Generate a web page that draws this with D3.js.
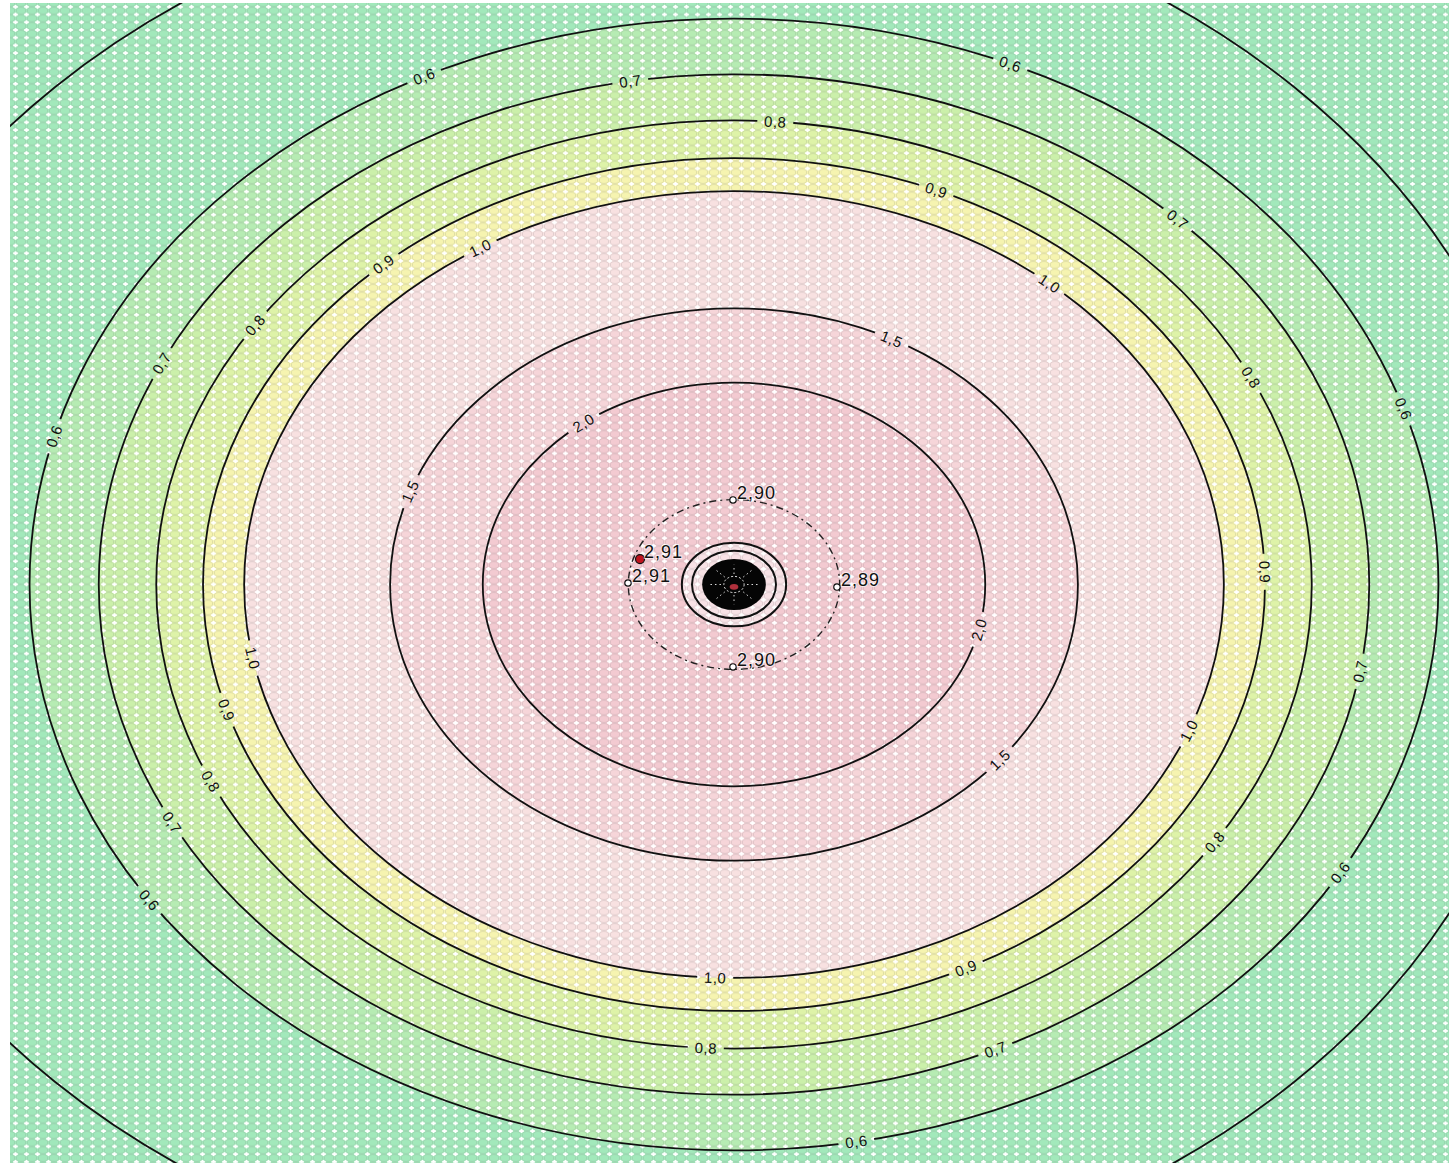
<!DOCTYPE html>
<html>
<head>
<meta charset="utf-8">
<script src="https://cdn.jsdelivr.net/npm/d3@7"></script>
<style>
  body { margin: 0; background: #fff; }
  svg { display: block; }
  text { font-family: "Liberation Sans", Arial, sans-serif; }
</style>
</head>
<body>
<div id="chart"></div>
<script>

// room is square (metres), the picture is stretched
var roomX = [0, 10];
var roomY = [0, 10];
var centreX = 5.0, centreY = 5.0;

// isolines: value, radius (m) and centre x (the 0,5 line sits off centre)
var levels = [0.5, 0.6, 0.7, 0.8, 0.9, 1.0, 1.5, 2.0];
var radii = [6.05, 4.865, 4.387, 3.99, 3.667, 3.383, 2.375, 1.735];
var levelCx = [4.59, 5.0, 5.0, 5.0, 5.0, 5.0, 5.0, 5.0];

// band colours: outside 0,5 ... inside 2,0
var bandColours = ["#a0e8bb", "#a2e9bb", "#b6ecb3", "#cbf0aa", "#def3a8",
                   "#f6f4b0", "#f8e1e1", "#f6d5d9", "#f3cad1"];

// where the isoline labels sit (value, angle in degrees round the centre)
var labelLevels = [0.6, 0.7, 0.8, 0.9, 0.6, 0.7, 1.0, 1.5, 2.0, 1.5, 0.8, 0.9, 1.0, 0.7, 0.6,
                   0.8, 0.6, 0.9, 2.0, 0.7, 1.0, 1.5, 0.8, 0.6, 1.0, 0.9, 0.8, 0.7, 0.6,
                   1.0, 0.9, 0.8, 0.7, 0.6];
var labelAngles = [116.1, 99.4, 85.9, 67.6, 66.9, 45.7, 49.9, 62.7, 126.8, 160.3, 146.0, 131.3, 121.2, 154.3, 164.8,
                   26.5, 18.1, 1.7, -12.9, -9.8, -21.8, -39.4, -33.7, -30.6, -92.2, -64.1, -92.8, -65.7, -80.0,
                   -169.2, -162.9, -154.9, -152.2, -146.1];

// calculation points near the luminaire
var pointX = [4.993, 5.711, 4.993, 4.268, 4.351];
var pointY = [5.727, 4.978, 4.291, 5.013, 5.219];
var pointValues = [2.90, 2.89, 2.90, 2.91, 2.91];
var pointIsMax = [false, false, false, false, true];

// dashed ring through the points, rings round the luminaire
var dashedRadius = 0.73;
var ringRadii = [0.36, 0.29];
var coreRadius = 0.22;

var width = 1449, height = 1163;
var margin = {top: 3, left: 10};

var x = d3.scaleLinear().domain(roomX).range([margin.left, 1458]);
var y = d3.scaleLinear().domain(roomY).range([1166, margin.top]);
var kx = x(1) - x(0), ky = y(0) - y(1);

var locale = d3.formatLocale({decimal: ",", thousands: ".", grouping: [3], currency: ["", ""]});
var fmt1 = locale.format(".1f"), fmt2 = locale.format(".2f");

var svg = d3.select("#chart").append("svg")
  .attr("width", width)
  .attr("height", height);

var defs = svg.append("defs");

defs.append("clipPath").attr("id", "plotClip")
  .append("rect")
    .attr("x", margin.left).attr("y", margin.top)
    .attr("width", width - margin.left).attr("height", height - margin.top);

// cell texture over the colours
var pat = defs.append("pattern")
  .attr("id", "cells")
  .attr("patternUnits", "userSpaceOnUse")
  .attr("x", margin.left).attr("y", margin.top)
  .attr("width", 11).attr("height", 7.7);
[[0, 0], [11, 0], [0, 7.7], [11, 7.7]].forEach(function(c) {
  pat.append("ellipse")
    .attr("cx", c[0]).attr("cy", c[1])
    .attr("rx", 4.6).attr("ry", 3.3)
    .attr("fill", "none")
    .attr("stroke", "rgba(130,130,130,0.25)")
    .attr("stroke-width", 0.8);
});
pat.append("path")
  .attr("d", "M3.2,3.85H7.8M5.5,2V5.7")
  .attr("stroke", "#fff")
  .attr("stroke-width", 1.7);

// label gaps cut out of the isolines
var mask = defs.append("mask").attr("id", "labelGaps")
  .attr("maskUnits", "userSpaceOnUse")
  .attr("x", 0).attr("y", 0).attr("width", width).attr("height", height);
mask.append("rect").attr("width", width).attr("height", height).attr("fill", "#fff");

var plot = svg.append("g").attr("clip-path", "url(#plotClip)");

// background band (outside the lowest line)
plot.append("rect")
  .attr("x", margin.left).attr("y", margin.top)
  .attr("width", width - margin.left).attr("height", height - margin.top)
  .attr("fill", bandColours[0]);

// filled bands, biggest first
plot.selectAll(".band")
  .data(levels)
  .enter().append("ellipse")
    .attr("class", "band")
    .attr("cx", function(d, i) { return x(levelCx[i]); })
    .attr("cy", y(centreY))
    .attr("rx", function(d, i) { return radii[i] * kx; })
    .attr("ry", function(d, i) { return radii[i] * ky; })
    .attr("fill", function(d, i) { return bandColours[i + 1]; });

// lighter patch round the luminaire
plot.append("ellipse")
  .attr("cx", x(centreX)).attr("cy", y(centreY))
  .attr("rx", ringRadii[0] * kx).attr("ry", ringRadii[0] * ky)
  .attr("fill", "#f8e2e6");

// texture
plot.append("rect")
  .attr("x", margin.left).attr("y", margin.top)
  .attr("width", width - margin.left).attr("height", height - margin.top)
  .attr("fill", "url(#cells)");

// label positions
var labels = labelLevels.map(function(v, i) {
  var k = levels.indexOf(v);
  var a = labelAngles[i] * Math.PI / 180;
  var r = radii[k];
  var px = x(levelCx[k] + r * Math.cos(a));
  var py = y(centreY + r * Math.sin(a));
  var rot = Math.atan2(-ky * Math.cos(a), -kx * Math.sin(a)) * 180 / Math.PI;
  if (rot > 90) rot -= 180;
  if (rot <= -90) rot += 180;
  return {v: v, x: px, y: py, rot: rot};
});

mask.selectAll(".gap")
  .data(labels)
  .enter().append("rect")
    .attr("x", -18).attr("y", -7)
    .attr("width", 36).attr("height", 14)
    .attr("fill", "#000")
    .attr("transform", function(d) { return "translate(" + d.x + "," + d.y + ") rotate(" + d.rot + ")"; });

// isolines
var lines = plot.append("g").attr("mask", "url(#labelGaps)");
lines.selectAll(".iso")
  .data(levels)
  .enter().append("ellipse")
    .attr("class", "iso")
    .attr("cx", function(d, i) { return x(levelCx[i]); })
    .attr("cy", y(centreY))
    .attr("rx", function(d, i) { return radii[i] * kx; })
    .attr("ry", function(d, i) { return radii[i] * ky; })
    .attr("fill", "none")
    .attr("stroke", "#111")
    .attr("stroke-width", 1.8);

// isoline labels
plot.selectAll(".isoLabel")
  .data(labels)
  .enter().append("text")
    .attr("class", "isoLabel")
    .attr("transform", function(d) { return "translate(" + d.x + "," + d.y + ") rotate(" + d.rot + ")"; })
    .attr("text-anchor", "middle")
    .attr("dy", "0.36em")
    .style("font-size", "15px")
    .style("letter-spacing", "0.5px")
    .style("fill", "#111")
    .text(function(d) { return fmt1(d.v); });

// dashed ring
plot.append("ellipse")
  .attr("cx", x(centreX)).attr("cy", y(centreY))
  .attr("rx", dashedRadius * kx).attr("ry", dashedRadius * ky)
  .attr("fill", "none")
  .attr("stroke", "#222")
  .attr("stroke-width", 1.4)
  .attr("stroke-dasharray", "7,4,2,4");

// rings round the luminaire
plot.selectAll(".ring")
  .data(ringRadii)
  .enter().append("ellipse")
    .attr("cx", x(centreX)).attr("cy", y(centreY))
    .attr("rx", function(d) { return d * kx; })
    .attr("ry", function(d) { return d * ky; })
    .attr("fill", "none")
    .attr("stroke", "#111")
    .attr("stroke-width", 2);

// dense core
plot.append("ellipse")
  .attr("cx", x(centreX)).attr("cy", y(centreY))
  .attr("rx", coreRadius * kx).attr("ry", coreRadius * ky)
  .attr("fill", "#050505");

// luminaire symbol inside the core
var lum = plot.append("g")
  .attr("transform", "translate(" + x(centreX) + "," + y(centreY) + ")");
lum.append("ellipse")
  .attr("rx", 0.07 * kx).attr("ry", 0.07 * ky)
  .attr("fill", "none")
  .attr("stroke", "#e8e8e8")
  .attr("stroke-width", 1)
  .attr("stroke-dasharray", "2,2");
lum.append("ellipse")
  .attr("cy", 0.02 * ky)
  .attr("rx", 0.03 * kx).attr("ry", 0.025 * ky)
  .attr("fill", "#b0303c");
d3.range(0, 360, 45).forEach(function(a) {
  var t = a * Math.PI / 180;
  lum.append("line")
    .attr("x1", Math.cos(t) * 0.09 * kx).attr("y1", Math.sin(t) * 0.09 * ky)
    .attr("x2", Math.cos(t) * 0.17 * kx).attr("y2", Math.sin(t) * 0.17 * ky)
    .attr("stroke", "#dcdcdc")
    .attr("stroke-width", 1)
    .attr("stroke-dasharray", "1.5,3");
});

// calculation points
var pts = plot.selectAll(".pt")
  .data(pointValues)
  .enter().append("g")
    .attr("transform", function(d, i) { return "translate(" + x(pointX[i]) + "," + y(pointY[i]) + ")"; });

pts.append("circle")
  .attr("r", function(d, i) { return pointIsMax[i] ? 4.5 : 3.2; })
  .attr("fill", function(d, i) { return pointIsMax[i] ? "#c0141e" : "#fff"; })
  .attr("stroke", "#111")
  .attr("stroke-width", 1.2);

pts.append("text")
  .attr("x", 4)
  .attr("y", -1)
  .style("font-size", "18px")
  .style("letter-spacing", "1px")
  .style("fill", "#111")
  .style("paint-order", "stroke")
  .style("stroke", "rgba(255,255,255,0.6)")
  .style("stroke-width", 2)
  .text(function(d) { return fmt2(d); });

</script>
</body>
</html>
